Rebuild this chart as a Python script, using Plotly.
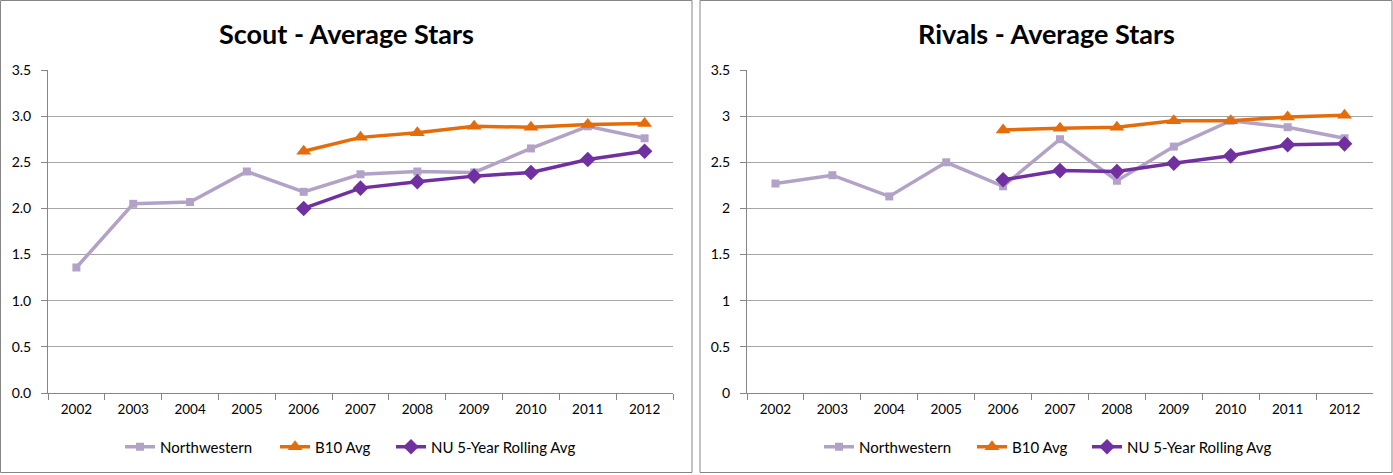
import plotly.graph_objects as go

years = ["2002", "2003", "2004", "2005", "2006", "2007", "2008", "2009", "2010", "2011", "2012"]
avg_years = ["2006", "2007", "2008", "2009", "2010", "2011", "2012"]

scout_nw = [1.36, 2.05, 2.07, 2.40, 2.18, 2.37, 2.40, 2.39, 2.65, 2.89, 2.76]
scout_b10 = [2.62, 2.77, 2.82, 2.89, 2.88, 2.91, 2.92]
scout_nu5 = [2.00, 2.22, 2.29, 2.35, 2.39, 2.53, 2.62]

rivals_nw = [2.27, 2.36, 2.13, 2.50, 2.24, 2.75, 2.30, 2.67, 2.95, 2.88, 2.76]
rivals_b10 = [2.85, 2.87, 2.88, 2.95, 2.95, 2.99, 3.01]
rivals_nu5 = [2.31, 2.41, 2.40, 2.49, 2.57, 2.69, 2.70]

titles = ["Scout - Average Stars", "Rivals - Average Stars"]
series_names = ["Northwestern", "B10 Avg", "NU 5-Year Rolling Avg"]

W, H = 1393, 475
FONT = "Lato, 'Open Sans', sans-serif"
C_NW = "#B3A2C7"
C_B10 = "#E46C0A"
C_NU5 = "#7030A0"
AXIS = "#868686"
GRID = "#A6A6A6"

fig = go.Figure()

# pixel x where each legend entry's text starts (left chart, right chart)
legend_text_x = [[162, 317, 433], [861, 1014, 1129]]

def add_set(nw, b10, nu5, xa, ya, legs):
    fig.add_trace(go.Scatter(x=years, y=nw, name=series_names[0], mode="lines+markers",
                             line=dict(color=C_NW, width=3.5),
                             marker=dict(symbol="square", size=8, color=C_NW),
                             xaxis=xa, yaxis=ya, legend=legs[0], hoverinfo="skip"))
    fig.add_trace(go.Scatter(x=avg_years, y=b10, name=series_names[1], mode="lines+markers",
                             line=dict(color=C_B10, width=3.5),
                             marker=dict(symbol="triangle-up", size=13, color=C_B10),
                             xaxis=xa, yaxis=ya, legend=legs[1], hoverinfo="skip"))
    fig.add_trace(go.Scatter(x=avg_years, y=nu5, name=series_names[2], mode="lines+markers",
                             line=dict(color=C_NU5, width=3.5),
                             marker=dict(symbol="diamond", size=12, color=C_NU5),
                             xaxis=xa, yaxis=ya, legend=legs[2], hoverinfo="skip"))

add_set(scout_nw, scout_b10, scout_nu5, "x", "y", ["legend", "legend2", "legend3"])
add_set(rivals_nw, rivals_b10, rivals_nu5, "x2", "y2", ["legend4", "legend5", "legend6"])

ydom = [1 - 393 / H, 1 - 70 / H]
xdom1 = [48 / W, 673 / W]
xdom2 = [747 / W, 1373 / W]

xcommon = dict(type="category", categoryorder="array", categoryarray=years,
               range=[-0.5, 10.5], showgrid=False, showline=True, linecolor=AXIS,
               linewidth=1, ticks="outside", tickson="boundaries", ticklen=6,
               tickcolor=AXIS, tickfont=dict(family=FONT, size=13.5, color="#000000"),
               ticklabelstandoff=4, zeroline=False, fixedrange=True)
ycommon = dict(range=[0, 3.5], dtick=0.5, tick0=0, showgrid=True, gridcolor=GRID,
               gridwidth=1, showline=True, linecolor=AXIS, linewidth=1,
               ticks="outside", ticklen=6, tickcolor=AXIS,
               tickfont=dict(family=FONT, size=14, color="#000000"),
               ticklabelstandoff=7, zeroline=False, fixedrange=True)

legfont = dict(family=FONT, size=15, color="#000000")

layout_legends = {}
names = ["legend", "legend2", "legend3", "legend4", "legend5", "legend6"]
flat_x = legend_text_x[0] + legend_text_x[1]
for nm, tx in zip(names, flat_x):
    layout_legends[nm] = dict(orientation="h", x=(tx - 42) / W, xanchor="left",
                              y=1 - 447 / H, yanchor="middle",
                              font=legfont, bgcolor="rgba(0,0,0,0)", borderwidth=0,
                              itemclick=False, itemdoubleclick=False)

fig.update_layout(
    autosize=True,
    margin=dict(l=0, r=0, t=0, b=0, autoexpand=False),
    paper_bgcolor="white", plot_bgcolor="white",
    font=dict(family=FONT, color="#000000"),
    xaxis=dict(domain=xdom1, anchor="y", **xcommon),
    yaxis=dict(domain=ydom, anchor="x", tickformat=".1f", **ycommon),
    xaxis2=dict(domain=xdom2, anchor="y2", **xcommon),
    yaxis2=dict(domain=ydom, anchor="x2", **ycommon),
    showlegend=True,
    **layout_legends,
)

for cx, t in zip([346 / W, 1046 / W], titles):
    fig.add_annotation(text="<b>%s</b>" % t, x=cx, y=1 - 33 / H, xref="paper", yref="paper",
                       xanchor="center", yanchor="middle", showarrow=False,
                       font=dict(family=FONT, size=27, color="#000000"))

for x0, x1 in [(0.5, 692), (700, 1392)]:
    fig.add_shape(type="rect", xref="paper", yref="paper",
                  x0=x0 / W, x1=x1 / W, y0=1 - 472.5 / H, y1=1 - 0.5 / H,
                  line=dict(color=AXIS, width=1), fillcolor="rgba(0,0,0,0)", layer="below")

post = (
    "document.documentElement.style.margin='0';"
    "document.documentElement.style.overflow='hidden';"
    "document.body.style.margin='0';"
    "document.body.style.padding='0';"
    "document.body.style.overflow='hidden';"
    "var gd=document.getElementById('{plot_id}');"
    "gd.style.width='100vw';gd.style.height='100vh';"
    "Plotly.Plots.resize(gd);"
)

fig.write_html("out.html",
               config={"displayModeBar": False, "responsive": True},
               default_width="100vw", default_height="100vh",
               post_script=post)
